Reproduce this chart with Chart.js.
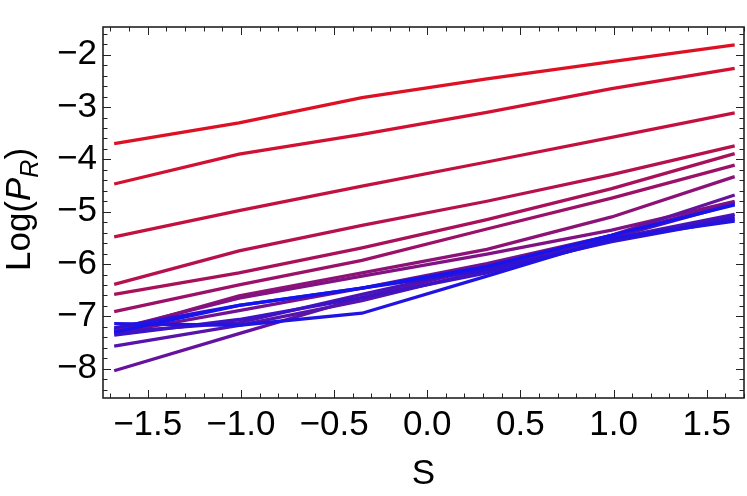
<!DOCTYPE html>
<html>
<head>
<meta charset="utf-8">
<script src="https://cdn.jsdelivr.net/npm/chart.js@4.4.1/dist/chart.umd.min.js"></script>
<style>
html, body { margin: 0; padding: 0; background: #fff; }
#wrap { width: 747px; height: 496px; }
</style>
</head>
<body>
<div id="wrap"><canvas id="chart"></canvas></div>
<script>
// S values where every curve is sampled
const sValues = [-1.68, -1.01, -0.35, 0.32, 0.99, 1.65];
const xTicks = [-1.5, -1.0, -0.5, 0.0, 0.5, 1.0, 1.5];
const yTicks = [-8, -7, -6, -5, -4, -3, -2];

// Log(P_R) curves, red first, blue last
const curve01 = [-3.70, -3.30, -2.82, -2.46, -2.13, -1.81];
const curve02 = [-4.47, -3.90, -3.52, -3.10, -2.65, -2.26];
const curve03 = [-5.48, -4.98, -4.51, -4.05, -3.58, -3.11];
const curve04 = [-6.39, -5.75, -5.26, -4.80, -4.29, -3.74];
const curve05 = [-6.58, -6.17, -5.69, -5.15, -4.56, -3.89];
const curve06 = [-6.91, -6.40, -5.93, -5.33, -4.74, -4.11];
const curve07 = [-7.28, -6.61, -6.17, -5.72, -5.10, -4.33];
const curve08 = [-7.25, -6.65, -6.23, -5.81, -5.35, -4.80];
const curve09 = [-7.32, -6.89, -6.46, -5.99, -5.45, -4.82];
const curve10 = [-8.04, -7.33, -6.64, -6.05, -5.45, -4.68];
const curve11 = [-7.57, -7.17, -6.70, -6.11, -5.50, -4.85];
const curve12 = [-7.30, -7.12, -6.58, -6.05, -5.52, -5.05];
const curve13 = [-7.36, -7.06, -6.64, -6.17, -5.55, -5.10];
const curve14 = [-7.22, -6.79, -6.46, -6.11, -5.57, -5.14];
const curve15 = [-7.14, -7.17, -6.94, -6.23, -5.51, -5.18];
const curve16 = [-7.30, -6.79, -6.46, -6.05, -5.45, -4.87];

const curves = [curve01, curve02, curve03, curve04, curve05, curve06, curve07, curve08,
                curve09, curve10, curve11, curve12, curve13, curve14, curve15, curve16];

const family = "'Liberation Sans', Arial, sans-serif";
const fontSize = 35;

function blendColor(t)
{
    const r = Math.round(222 + (20 - 222) * t);
    const g = Math.round(16 + (20 - 16) * t);
    const b = Math.round(36 + (240 - 36) * t);
    return 'rgb(' + r + ',' + g + ',' + b + ')';
}

function minusLabel(v, digits)
{
    const s = Math.abs(v).toFixed(digits);
    return (v < 0 ? '\u2212' : '') + s;
}

const datasets = curves.map(function(c, i) {
    return {
        data: c.map(function(v, k) { return {x: sValues[k], y: v}; }),
        borderColor: blendColor(i / (curves.length - 1)),
        borderWidth: 3.3,
        pointRadius: 0,
        tension: 0,
        fill: false,
        order: curves.length - i
    };
});

// frame with inward ticks on all four sides
const framePlugin = {
    id: 'frame',
    afterDatasetsDraw(chart) {
        const ctx = chart.ctx, a = chart.chartArea;
        const x = chart.scales.x, y = chart.scales.y;
        ctx.save();
        ctx.strokeStyle = '#222';
        ctx.lineWidth = 1;
        ctx.beginPath();
        for (let k = -17; k <= 17; k++) {
            const px = Math.round(x.getPixelForValue(k / 10)) + 0.5;
            const len = k % 5 === 0 ? 8 : 4.5;
            ctx.moveTo(px, a.bottom); ctx.lineTo(px, a.bottom - len);
            ctx.moveTo(px, a.top); ctx.lineTo(px, a.top + len);
        }
        for (let k = -42; k <= -8; k++) {
            const py = Math.round(y.getPixelForValue(k / 5)) + 0.5;
            const len = k % 5 === 0 ? 8 : 4.5;
            ctx.moveTo(a.left, py); ctx.lineTo(a.left + len, py);
            ctx.moveTo(a.right, py); ctx.lineTo(a.right - len, py);
        }
        ctx.stroke();
        ctx.lineWidth = 1.6;
        ctx.strokeRect(a.left, a.top, a.right - a.left, a.bottom - a.top);
        ctx.restore();
    }
};

// y title with italic P and subscript R
const yTitlePlugin = {
    id: 'yTitle',
    afterDraw(chart) {
        const ctx = chart.ctx, a = chart.chartArea;
        const parts = [
            {t: 'Log(', f: fontSize + 'px ' + family, dy: 0},
            {t: 'P', f: 'italic ' + fontSize + 'px ' + family, dy: 0},
            {t: 'R', f: 'italic ' + Math.round(fontSize * 0.7) + 'px ' + family, dy: fontSize * 0.22},
            {t: ')', f: fontSize + 'px ' + family, dy: 0}
        ];
        ctx.save();
        ctx.translate(30, (a.top + a.bottom) / 2 - 3);
        ctx.rotate(-Math.PI / 2);
        let total = 0;
        parts.forEach(function(p) { ctx.font = p.f; p.w = ctx.measureText(p.t).width; total += p.w; });
        let xx = -total / 2;
        ctx.fillStyle = '#000';
        ctx.textBaseline = 'alphabetic';
        parts.forEach(function(p) { ctx.font = p.f; ctx.fillText(p.t, xx, p.dy); xx += p.w; });
        ctx.restore();
    }
};

new Chart(document.getElementById('chart'), {
    type: 'line',
    data: { datasets: datasets },
    options: {
        responsive: true,
        maintainAspectRatio: false,
        animation: false,
        layout: { padding: { left: 0, right: 3, top: 3, bottom: 0 } },
        plugins: { legend: { display: false }, tooltip: { enabled: false } },
        scales: {
            x: {
                type: 'linear',
                min: -1.74,
                max: 1.70,
                grid: { display: false, drawTicks: false },
                border: { display: false },
                afterBuildTicks(scale) { scale.ticks = xTicks.map(function(v) { return {value: v}; }); },
                afterFit(scale) { scale.height = 98; },
                ticks: {
                    color: '#000',
                    padding: 6,
                    maxRotation: 0,
                    autoSkip: false,
                    font: { family: family, size: fontSize },
                    callback: function(v) { return minusLabel(v, 1); }
                },
                title: {
                    display: true,
                    text: 'S',
                    color: '#000',
                    padding: { top: 0, bottom: 1 },
                    font: { family: family, size: fontSize }
                }
            },
            y: {
                type: 'linear',
                min: -8.56,
                max: -1.47,
                grid: { display: false, drawTicks: false },
                border: { display: false },
                afterBuildTicks(scale) { scale.ticks = yTicks.map(function(v) { return {value: v}; }); },
                afterFit(scale) { scale.width = 103; },
                ticks: {
                    color: '#000',
                    padding: 6,
                    autoSkip: false,
                    font: { family: family, size: fontSize },
                    callback: function(v) { return minusLabel(v, 0); }
                }
            }
        }
    },
    plugins: [framePlugin, yTitlePlugin]
});
</script>
</body>
</html>
